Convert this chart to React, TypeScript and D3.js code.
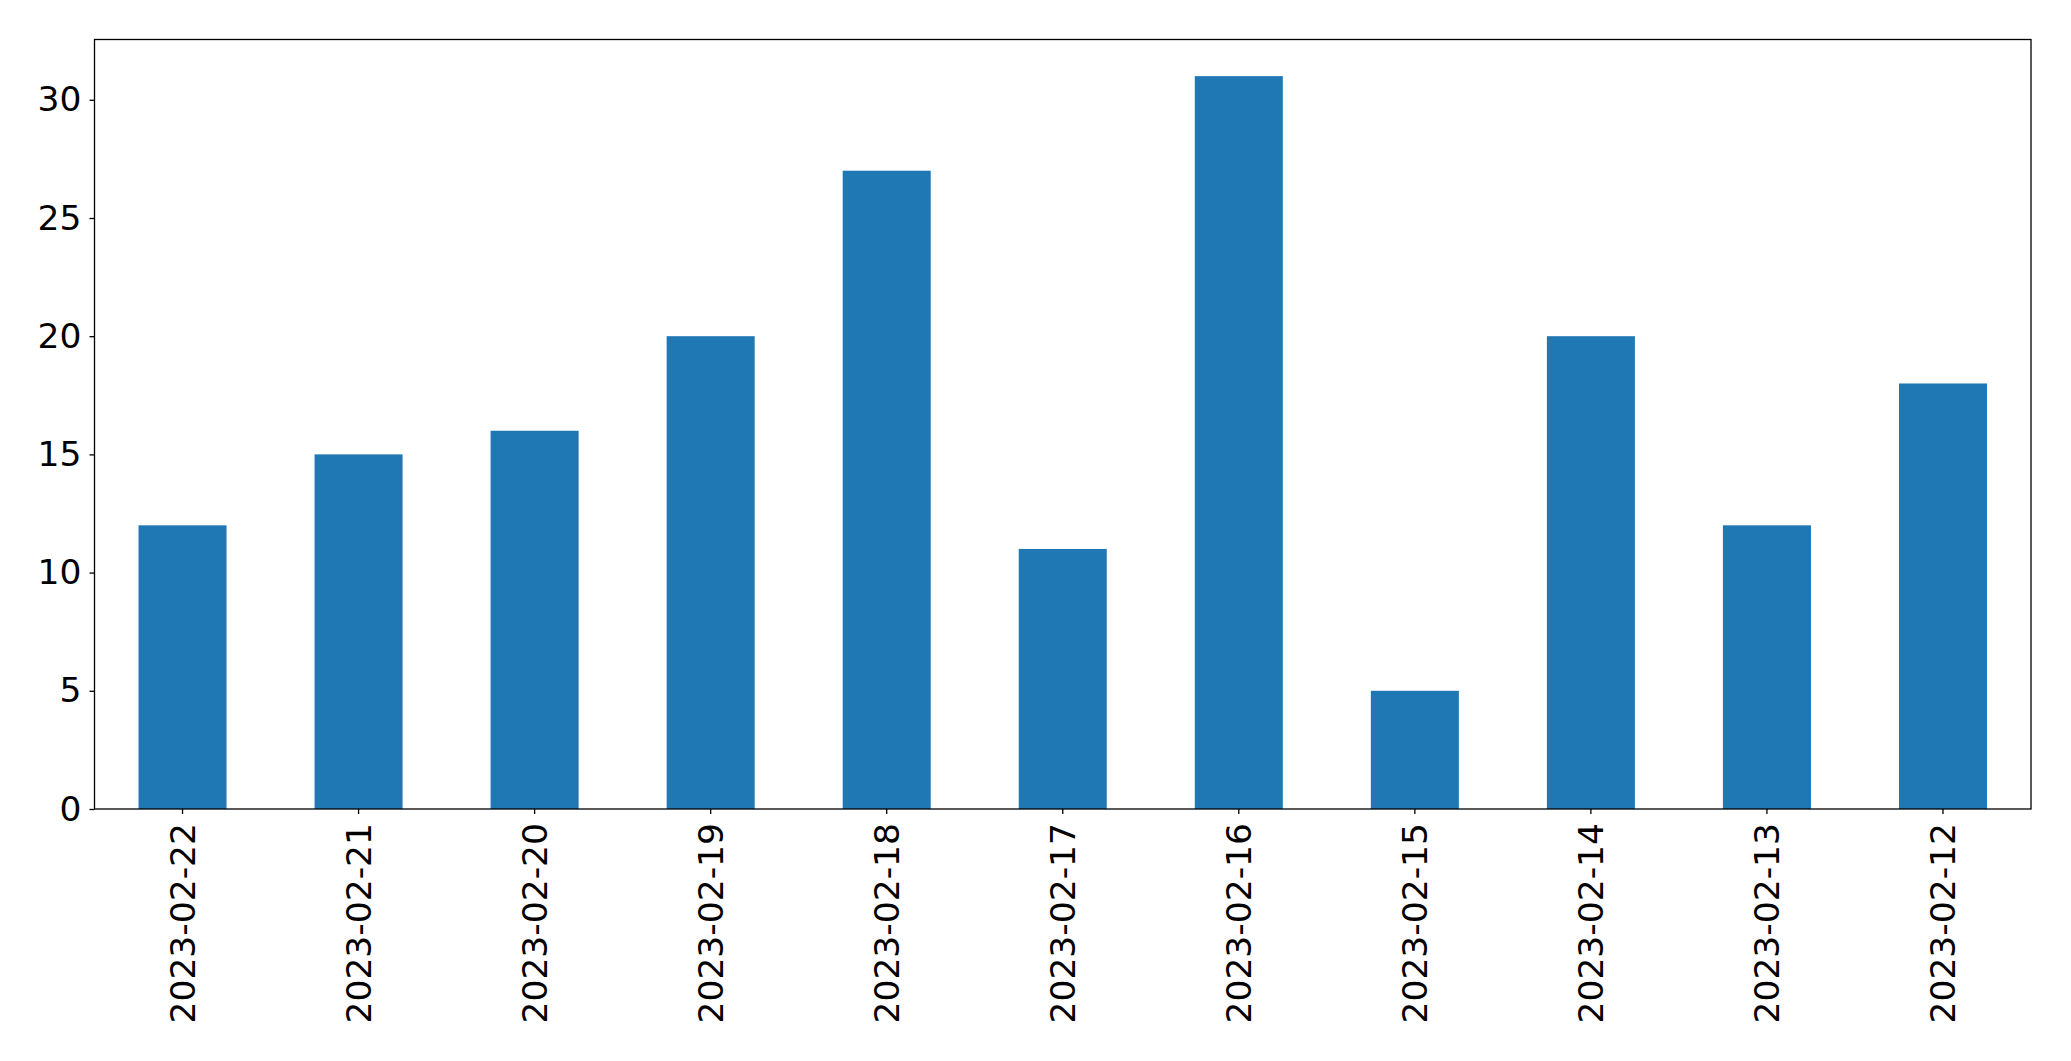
import * as d3 from "d3";
import { useEffect, useRef } from "react";

const dates = [
  "2023-02-22",
  "2023-02-21",
  "2023-02-20",
  "2023-02-19",
  "2023-02-18",
  "2023-02-17",
  "2023-02-16",
  "2023-02-15",
  "2023-02-14",
  "2023-02-13",
  "2023-02-12",
];
const counts = [12, 15, 16, 20, 27, 11, 31, 5, 20, 12, 18];
const yTicks = [0, 5, 10, 15, 20, 25, 30];

const W = 2071;
const H = 1061;
const margin = { left: 94.5, top: 39.5, right: 40, bottom: 252 };
const fontSize = 34.5;
const font = "'DejaVu Sans', sans-serif";

export default function App() {
  const xAxisRef = useRef<SVGGElement>(null);
  const yAxisRef = useRef<SVGGElement>(null);

  const innerW = W - margin.left - margin.right;
  const innerH = H - margin.top - margin.bottom;

  // matplotlib-style: bars 0.5 wide, xlim -0.5..n-0.5
  const x = d3
    .scaleBand()
    .domain(dates)
    .range([0, innerW])
    .paddingInner(0.5)
    .paddingOuter(0.25);

  const y = d3
    .scaleLinear()
    .domain([0, (d3.max(counts) ?? 0) * 1.05])
    .range([innerH, 0]);

  useEffect(() => {
    const gx = d3.select(xAxisRef.current!);
    gx.call(d3.axisBottom(x).tickSize(5).tickPadding(8).tickSizeOuter(0));
    gx.select(".domain").remove();
    gx.selectAll(".tick line").attr("stroke", "#000").attr("stroke-width", 1.3);
    gx.selectAll<SVGTextElement, string>(".tick text")
      .attr("font-size", fontSize)
      .attr("font-family", font)
      .attr("fill", "#000")
      .attr("text-anchor", "end")
      .attr("dy", "0.35em")
      .attr("x", 0)
      .attr("y", 0)
      .attr("transform", "translate(0,14) rotate(-90)");

    const gy = d3.select(yAxisRef.current!);
    gy.call(
      d3.axisLeft(y).tickValues(yTicks).tickSize(5).tickPadding(8).tickSizeOuter(0)
    );
    gy.select(".domain").remove();
    gy.selectAll(".tick line").attr("stroke", "#000").attr("stroke-width", 1.3);
    gy.selectAll(".tick text")
      .attr("font-size", fontSize)
      .attr("font-family", font)
      .attr("fill", "#000");
  }, []);

  return (
    <svg
      width={W}
      height={H}
      style={{ position: "absolute", left: 0, top: 0, background: "#fff" }}
    >
      <g transform={`translate(${margin.left},${margin.top})`}>
        {dates.map((d, i) => (
          <rect
            key={d}
            x={x(d) ?? 0}
            y={y(counts[i])}
            width={x.bandwidth()}
            height={innerH - y(counts[i])}
            fill="#1f77b4"
          />
        ))}
        <rect
          x={0}
          y={0}
          width={innerW}
          height={innerH}
          fill="none"
          stroke="#000"
          strokeWidth={1.3}
        />
        <g ref={xAxisRef} transform={`translate(0,${innerH})`} />
        <g ref={yAxisRef} />
      </g>
    </svg>
  );
}
